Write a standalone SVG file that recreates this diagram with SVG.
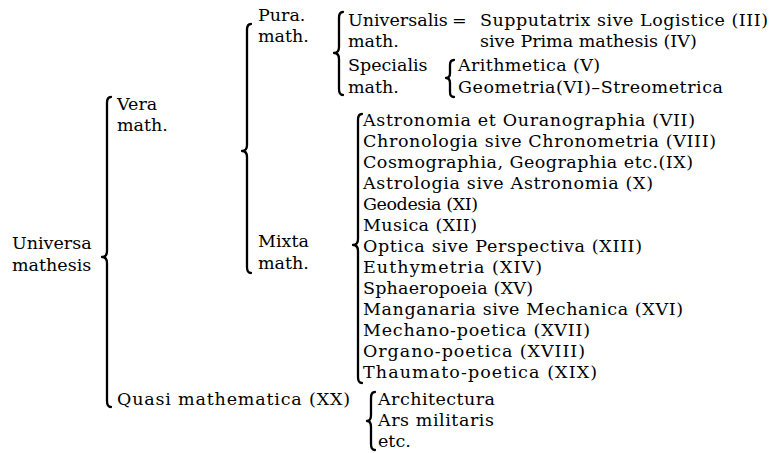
<svg xmlns="http://www.w3.org/2000/svg" width="774" height="453" viewBox="0 0 774 453">
<style>
text{font-family:"DejaVu Serif","Liberation Serif",serif;font-size:17.5px;fill:#000}
.br{fill:none;stroke:#000;stroke-width:2.3;stroke-linecap:round;stroke-linejoin:round}
</style>
<rect width="774" height="453" fill="#fff"/>
<g id="connectors">
<path class="br" d="M111,97 Q107,97 107,103 L107,251 Q107,257 102,257 Q107,257 107,263 L107,401 Q107,407 111,407"/>
<path class="br" d="M251,24 Q247,24 247,30 L247,145 Q247,151 242,151 Q247,151 247,157 L247,267 Q247,273 251,273"/>
<path class="br" d="M343,12 Q339,12 339,18 L339,47 Q339,53 334,53 Q339,53 339,59 L339,89 Q339,95 343,95"/>
<path class="br" d="M454,60 Q450,60 450,65 L450,73 Q450,78 446,78 Q450,78 450,83 L450,92 Q450,97 454,97"/>
<path class="br" d="M362,114 Q358,114 358,120 L358,239 Q358,245 353,245 Q358,245 358,251 L358,377 Q358,383 362,383"/>
<path class="br" d="M375,392 Q371,392 371,398 L371,415 Q371,421 367,421 Q371,421 371,427 L371,444 Q371,450 375,450"/>
</g>
<g id="universa"><text x="12" y="249">Universa</text><text x="12" y="271">mathesis</text></g>
<g id="vera"><text x="117" y="110">Vera</text><text x="117" y="131">math.</text></g>
<g id="pura"><text x="258" y="21">Pura.</text><text x="258" y="42">math.</text></g>
<g id="mixta"><text x="258" y="247">Mixta</text><text x="258" y="269">math.</text></g>
<g id="universalis"><text x="348" y="26">Universalis</text><text x="348" y="47">math.</text></g>
<g id="supputatrix"><text x="452" y="26">=</text><text x="480" y="26" textLength="288" lengthAdjust="spacing">Supputatrix sive Logistice (III)</text><text x="480" y="47">sive Prima mathesis (IV)</text></g>
<g id="specialis"><text x="348" y="71">Specialis</text><text x="348" y="93">math.</text></g>
<g id="arith"><text x="458" y="71" textLength="142" lengthAdjust="spacing">Arithmetica (V)</text></g>
<g id="geom"><text x="458" y="93" textLength="265" lengthAdjust="spacing">Geometria(VI)–Streometrica</text></g>
<g id="mixta-list">
<text x="363" y="126" textLength="332" lengthAdjust="spacing">Astronomia et Ouranographia (VII)</text>
<text x="363" y="147" textLength="353" lengthAdjust="spacing">Chronologia sive Chronometria (VIII)</text>
<text x="363" y="168" textLength="330" lengthAdjust="spacing">Cosmographia, Geographia etc.(IX)</text>
<text x="363" y="189" textLength="290" lengthAdjust="spacing">Astrologia sive Astronomia (X)</text>
<text x="363" y="210" textLength="115" lengthAdjust="spacing">Geodesia (XI)</text>
<text x="363" y="231" textLength="114" lengthAdjust="spacing">Musica (XII)</text>
<text x="363" y="252" textLength="279" lengthAdjust="spacing">Optica sive Perspectiva (XIII)</text>
<text x="363" y="273" textLength="179" lengthAdjust="spacing">Euthymetria (XIV)</text>
<text x="363" y="294" textLength="170" lengthAdjust="spacing">Sphaeropoeia (XV)</text>
<text x="363" y="315" textLength="320" lengthAdjust="spacing">Manganaria sive Mechanica (XVI)</text>
<text x="363" y="336" textLength="227" lengthAdjust="spacing">Mechano-poetica (XVII)</text>
<text x="363" y="357" textLength="222" lengthAdjust="spacing">Organo-poetica (XVIII)</text>
<text x="363" y="378" textLength="234" lengthAdjust="spacing">Thaumato-poetica (XIX)</text>
</g>
<g id="quasi"><text x="117" y="405" textLength="233" lengthAdjust="spacing">Quasi mathematica (XX)</text></g>
<g id="quasi-list"><text x="378" y="405" textLength="117" lengthAdjust="spacing">Architectura</text><text x="378" y="426" textLength="116" lengthAdjust="spacing">Ars militaris</text><text x="378" y="447">etc.</text></g>
</svg>
